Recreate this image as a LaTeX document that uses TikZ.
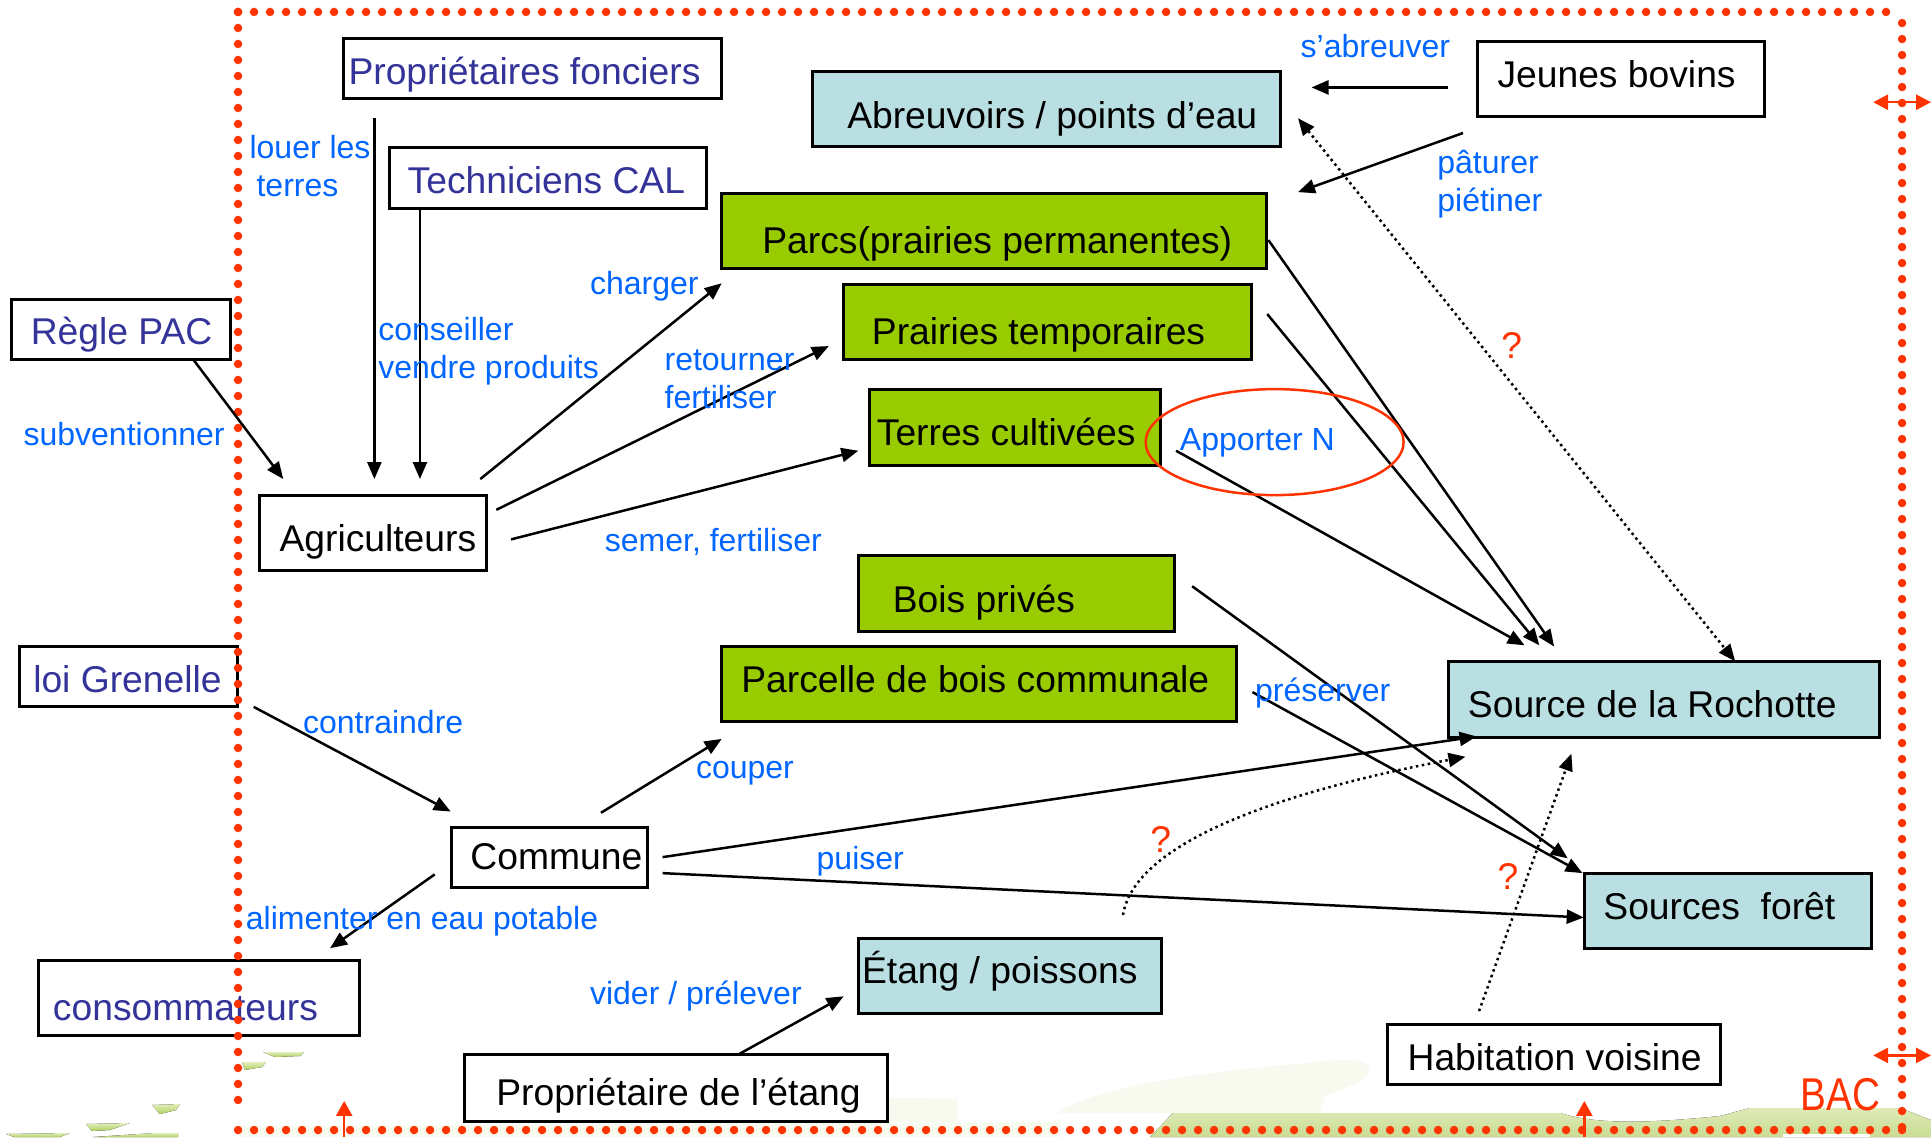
\documentclass[tikz,border=0pt]{standalone}
\usepackage{fontspec}
\setmainfont{Liberation Sans}
\usetikzlibrary{arrows.meta,shapes.geometric}
\definecolor{navyt}{HTML}{333399}
\definecolor{bluet}{HTML}{0066FF}
\definecolor{redt}{HTML}{FF3300}
\definecolor{grn}{HTML}{99CC00}
\definecolor{aqua}{HTML}{B9DFE3}
\newcommand{\boxfont}{\fontsize{37.25}{37}\selectfont}
\newcommand{\labfont}{\fontsize{32}{38}\selectfont}
% \bx{style}{name}{x1}{y1}{x2}{y2}{text left}{text baseline}{text}
\newcommand{\bx}[9]{%
  \pgfmathsetmacro{\cxx}{(#3+#5)/2}\pgfmathsetmacro{\cyy}{(#4+#6)/2}%
  \pgfmathsetmacro{\wdd}{(#5-#3)*1.2315}\pgfmathsetmacro{\htt}{(#6-#4)*1.2315}%
  \pgfmathsetmacro{\dxx}{(#7-\cxx)*1.2315}\pgfmathsetmacro{\dyy}{(\cyy-#8)*1.2315}%
  \node[#1,minimum width=\wdd pt,minimum height=\htt pt] (#2) at (\cxx,\cyy)
    {\raisebox{\dyy pt}{\makebox[0pt][l]{\hspace*{\dxx pt}#9}}};}
\newcommand{\lb}[4]{\node[lab] (#1) at (#2,#3) {#4};}
\newcommand{\qm}[3]{\node[qmark] (#1) at (#2,#3) {?};}
\newcommand{\conn}[4][arr]{\coordinate (#2a) at (#3); \coordinate (#2b) at (#4); \draw[#1] (#2a) -- (#2b);}
\definecolor{faintc}{HTML}{F8FAEF}
\definecolor{E2EEBC}{HTML}{E2EEBC}
\definecolor{AFCF5E}{HTML}{AFCF5E}
\definecolor{bandt}{HTML}{DFEAB8}
\definecolor{bandb}{HTML}{C9DC93}
\tikzset{
  bxs/.style={draw=black,line width=3pt,inner sep=0pt,text height=0pt,text depth=0pt,font=\boxfont,text=black},
  plain/.style={bxs,fill=white},
  greenbox/.style={bxs,fill=grn},
  aquabox/.style={bxs,fill=aqua},
  lab/.style={anchor=base west,inner sep=0pt,font=\labfont,text=bluet,align=left},
  qmark/.style={anchor=base west,inner sep=0pt,font=\boxfont,text=redt},
  arr/.style={line width=2.5pt,-{Triangle[length=17pt,width=14pt]}},
  dots/.style={line width=2.5pt,dash pattern=on 2.5pt off 3.5pt},
  redarr/.style={draw=redt,line width=2.5pt,{Triangle[length=15pt,width=15pt]}-{Triangle[length=15pt,width=15pt]}},
  redup/.style={draw=redt,line width=2.5pt,-{Triangle[length=15pt,width=16pt]}},
  border/.style={draw=redt,line width=8.5pt,line cap=round,dash pattern=on 0pt off 16pt},
  leaf/.style={top color=E2EEBC,bottom color=AFCF5E,draw=none},
  faint/.style={fill=faintc,draw=none},
}
\begin{document}
\begin{tikzpicture}[x=1.2315pt,y=-1.2315pt]
\useasboundingbox (0,0) rectangle (1568,923.3);
\fill[white] (0,0) rectangle (1568,923.3);
% background, in reference pixels
\begin{scope}[x=1pt,y=-1pt]
  \fill[faint] (240,1126) -- (1060,1122) -- (1060,1137) -- (240,1137) -- cycle;
  \fill[faint] (746,1122) .. controls (790,1100) and (900,1094) .. (957,1100) -- (957,1122) -- cycle;
  \fill[faint] (1057,1113) .. controls (1100,1085) and (1200,1072) .. (1340,1060) .. controls (1380,1058) and (1383,1078) .. (1325,1095) -- (1320,1113) -- cycle;
  \fill[top color=bandt,bottom color=bandb,draw=none] (1173,1113) -- (1560,1113) .. controls (1600,1126) and (1660,1122) .. (1720,1116) -- (1750,1108) -- (1900,1108) -- (1931,1120) -- (1931,1137) -- (1150,1137) -- cycle;
  \fill[white] (1783,1134) rectangle (1870,1137);
  \fill[leaf] (263,1052) -- (304,1052) -- (300,1056) -- (275,1057) -- cycle;
  \fill[leaf] (242,1062) -- (266,1062) -- (262,1067) -- (245,1070) -- cycle;
  \fill[leaf] (152,1105) -- (180,1104) -- (176,1110) -- (160,1114) -- cycle;
  \fill[leaf] (86,1124) -- (130,1123) -- (110,1130) -- (92,1131) -- cycle;
  \fill[leaf] (6,1134) -- (70,1133) -- (60,1137) -- (14,1137) -- cycle;
  \fill[leaf] (93,1137) -- (155,1133) -- (178,1133) -- (178,1137) -- cycle;
\end{scope}
% boxes
\bx{plain}{pf}{279}{31}{586}{80}{283}{68.7}{\textcolor{navyt}{Propriétaires fonciers}}
\bx{plain}{tc}{316}{120}{574}{169}{331}{157.5}{\textcolor{navyt}{Techniciens CAL}}
\bx{plain}{jb}{1200}{34}{1433}{95}{1216}{70.7}{Jeunes bovins}
\bx{aquabox}{ab}{660}{58}{1040}{119}{688}{104.5}{Abreuvoirs / points d’eau}
\bx{greenbox}{pa}{586}{157}{1028}{218}{619}{206}{Parcs(prairies permanentes)}
\bx{greenbox}{pt}{685}{231}{1016}{292}{708}{279.5}{Prairies temporaires}
\bx{greenbox}{tr}{706}{316}{942}{378}{712}{362}{Terres cultivées}
\bx{plain}{rp}{9}{243}{187}{292}{25}{280}{\textcolor{navyt}{Règle PAC}}
\bx{plain}{ag}{211}{402}{395}{463}{227}{448}{Agriculteurs}
\bx{greenbox}{bp}{697}{451}{954}{513}{725}{497}{Bois privés}
\bx{greenbox}{pc}{586}{525}{1004}{586}{602}{562}{Parcelle de bois communale}
\bx{aquabox}{sr}{1176}{537}{1526}{599}{1192}{583}{Source de la Rochotte}
\bx{plain}{lg}{16}{525}{193}{574}{27}{562}{\textcolor{navyt}{loi Grenelle}}
\bx{plain}{co}{367}{672}{526}{721}{382}{706}{Commune}
\bx{aquabox}{sf}{1287}{709}{1520}{770}{1302}{746.5}{Sources\ \ forêt}
\bx{aquabox}{et}{697}{762}{943}{823}{700}{799}{Étang / poissons}
\bx{plain}{cs}{31}{780}{292}{841}{43}{829}{\textcolor{navyt}{consommateurs}}
\bx{plain}{pe}{377}{856}{721}{911}{403}{898}{Propriétaire de l’étang}
\bx{plain}{hv}{1127}{832}{1397}{881}{1143}{869}{Habitation voisine}
% BAC dotted limit
\coordinate (tl) at (193.3,9.7);
\coordinate (tr2) at (1540.5,9.7);
\coordinate (tr3) at (1544.5,18.7);
\coordinate (br) at (1544.5,917.6);
\coordinate (bl) at (193.3,917.6);
\coordinate (bl2) at (193.3,906);
\draw[border] (tl) -- (tr2);
\draw[border] (tr3) -- (br);
\draw[border] (bl) -- (br);
\draw[border] (tl) -- (bl2);
% BAC arrows
\conn[redarr]{ra}{1521,83}{1568,83}
\conn[redarr]{rb}{1521,857}{1568,857}
\conn[redup]{rc}{279.5,923.3}{279.5,894}
\conn[redup]{rd}{1286.5,923.3}{1286.5,894}
% connectors
\conn{k1}{304,96}{304,389}
\conn{k2}{341,169}{341,389}
\conn{k3}{157,292}{230,389}
\conn{k4}{390,389}{586,230}
\conn{k5}{403,414}{673,281}
\conn{k6}{415,438}{697,366}
\conn{k7}{206,574}{366,659}
\conn{k8}{488,660}{586,600}
\conn{k9}{538,696}{1199,598}
\conn{k10}{538,709}{1286,745}
\conn{k11}{353,710}{268,770}
\conn{k12}{600,856}{685,809}
\conn{k13}{1176,71}{1065,71}
\conn{k14}{1188,108}{1054,156}
\conn{k15}{1030,195}{1262,525}
\conn{k16}{1029,255}{1250,524}
\conn{k17}{955,366}{1238,524}
\conn{k18}{968,476}{1273,697}
\conn{k19}{1017,562}{1285,709}
\coordinate (d1a) at (1054,96); \coordinate (d1b) at (1409,537);
\draw[dots,{Triangle[length=17pt,width=14pt]}-{Triangle[length=17pt,width=14pt]}] (d1a) -- (d1b);
\coordinate (d2a) at (911.9,743); \coordinate (d2b) at (1190,614.5);
\draw[dots,-{Triangle[length=17pt,width=14pt]}] (d2a) .. controls (921.6,682) and (1047.5,641.5) .. (d2b);
\coordinate (d3a) at (1201,821); \coordinate (d3b) at (1276,612);
\draw[dots,-{Triangle[length=17pt,width=14pt]}] (d3a) -- (d3b);
% ellipse
\node[draw=redt,line width=2.5pt,shape=ellipse,minimum width=258pt,minimum height=106pt,inner sep=0pt] (ell) at (1035,359) {};
% labels
\lb{l1}{1056}{47}{s’abreuver}
\lb{l2}{1167}{172}{pâturer\\piétiner}
\lb{l3}{202.5}{159.5}{louer les\\\hspace*{7pt}terres}
\lb{l4}{307}{307}{conseiller\\vendre produits}
\lb{l5}{479}{239}{charger}
\lb{l6}{539.5}{331.5}{retourner\\fertiliser}
\lb{l7}{19}{362}{subventionner}
\lb{l8}{491}{448}{semer, fertiliser}
\lb{l9}{958}{366}{Apporter N}
\lb{l10}{1019}{570}{préserver}
\lb{l11}{246}{596}{contraindre}
\lb{l12}{565}{632}{couper}
\lb{l13}{663}{706}{puiser}
\lb{l14}{199.5}{755}{alimenter en eau potable}
\lb{l15}{479}{816}{vider / prélever}
\qm{q1}{1219}{291}
\qm{q2}{934}{692}
\qm{q3}{1216}{722}
\node[anchor=base west,inner sep=0pt,font=\fontsize{46}{46}\selectfont,text=redt] (bac) at (1462,902) {\scalebox{.84}[1]{BAC}};
\end{tikzpicture}
\end{document}
